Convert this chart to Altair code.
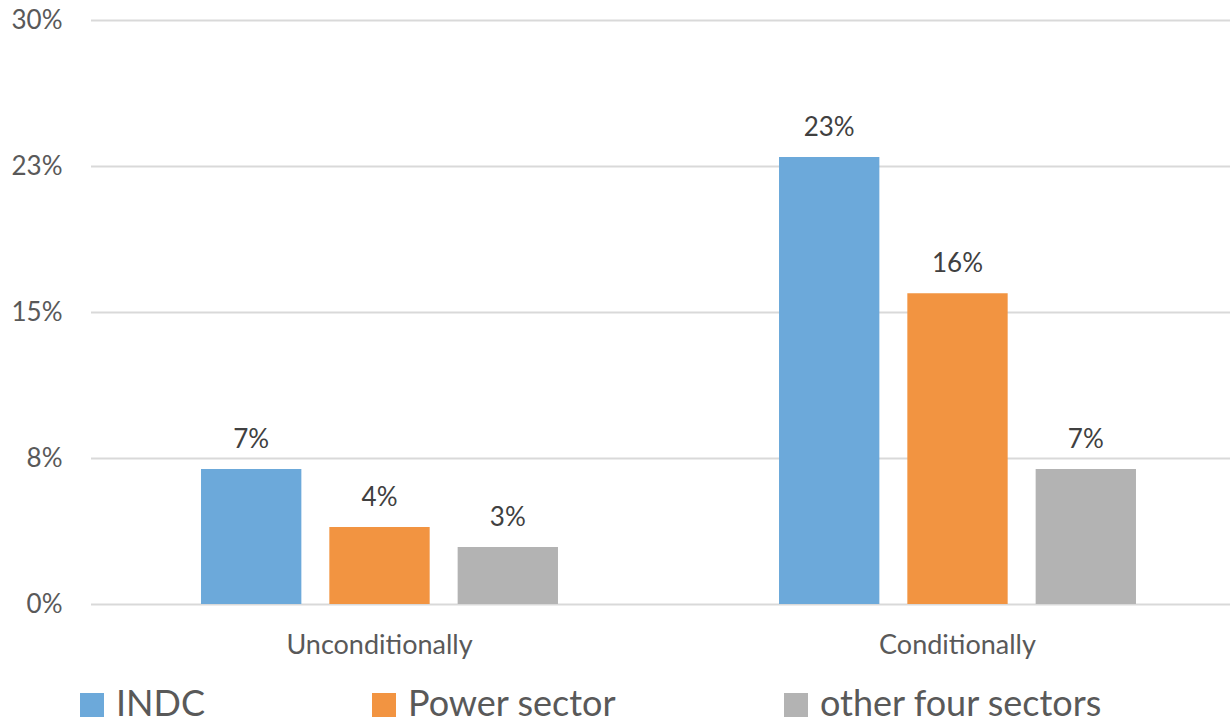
import altair as alt
import pandas as pd

categories = ["Unconditionally", "Conditionally"]
series = ["INDC", "Power sector", "other four sectors"]
values = {
    "INDC": [0.0693, 0.2296],
    "Power sector": [0.0396, 0.1596],
    "other four sectors": [0.0293, 0.0693],
}
value_labels = {
    "INDC": ["7%", "23%"],
    "Power sector": ["4%", "16%"],
    "other four sectors": ["3%", "7%"],
}
tick_values = [0, 0.075, 0.15, 0.225, 0.30]
tick_labels = ["0%", "8%", "15%", "23%", "30%"]
colors = ["#6CA9DA", "#F29441", "#B3B3B3"]

rows = []
for s in series:
    for i, c in enumerate(categories):
        rows.append({"category": c, "series": s, "value": values[s][i], "label": value_labels[s][i]})
df = pd.DataFrame(rows)

FONT = "Lato"
label_expr = "[" + ",".join("'%s'" % t for t in tick_labels) + "][round(datum.value / 0.075)]"

x_enc = alt.X(
    "category:N",
    sort=categories,
    title=None,
    scale=alt.Scale(range=[0.5, 1156.5], paddingInner=0.3824, paddingOuter=0.1912),
    axis=alt.Axis(labelAngle=0, domain=False, ticks=False, grid=False, labelFontSize=27,
                  labelColor="#595959", labelFont=FONT, labelPadding=28, labelLimit=500),
)
xoff = alt.XOffset("series:N", sort=series, scale=alt.Scale(paddingInner=0.218, paddingOuter=0))

base = alt.Chart(df)

bars = base.mark_bar().encode(
    x=x_enc,
    xOffset=xoff,
    y=alt.Y(
        "value:Q",
        title=None,
        scale=alt.Scale(domain=[0, 0.30], nice=False),
        axis=alt.Axis(values=tick_values, labelExpr=label_expr, domain=False, ticks=False,
                      gridColor="#D9D9D9", gridWidth=2, labelFontSize=26, labelColor="#595959",
                      labelFont=FONT, labelPadding=28),
    ),
    color=alt.Color(
        "series:N",
        sort=series,
        scale=alt.Scale(domain=series, range=colors),
        legend=alt.Legend(
            title=None, orient="none", direction="horizontal", legendX=-16, legendY=667,
            symbolType="square", symbolSize=576, symbolStrokeWidth=0, symbolOpacity=1,
            labelFontSize=36, labelFont=FONT, labelColor="#595959", labelOffset=6,
            labelLimit=1000, columnPadding=161, padding=0,
        ),
    ),
)

texts = base.mark_text(baseline="alphabetic", dy=-21, fontSize=26, font=FONT, color="#404040").encode(
    x=alt.X("category:N", sort=categories),
    xOffset=alt.XOffset("series:N", sort=series),
    y=alt.Y("value:Q"),
    text="label:N",
)

chart = (
    alt.layer(bars, texts)
    .properties(
        width=1140,
        height=584,
        background="white",
        autosize=alt.AutoSizeParams(type="none"),
        padding={"left": 90, "top": 20, "right": 0, "bottom": 119},
    )
    .configure_view(strokeWidth=0, stroke="transparent")
)

chart.save("out.html", embed_options={"renderer": "svg", "actions": False})
